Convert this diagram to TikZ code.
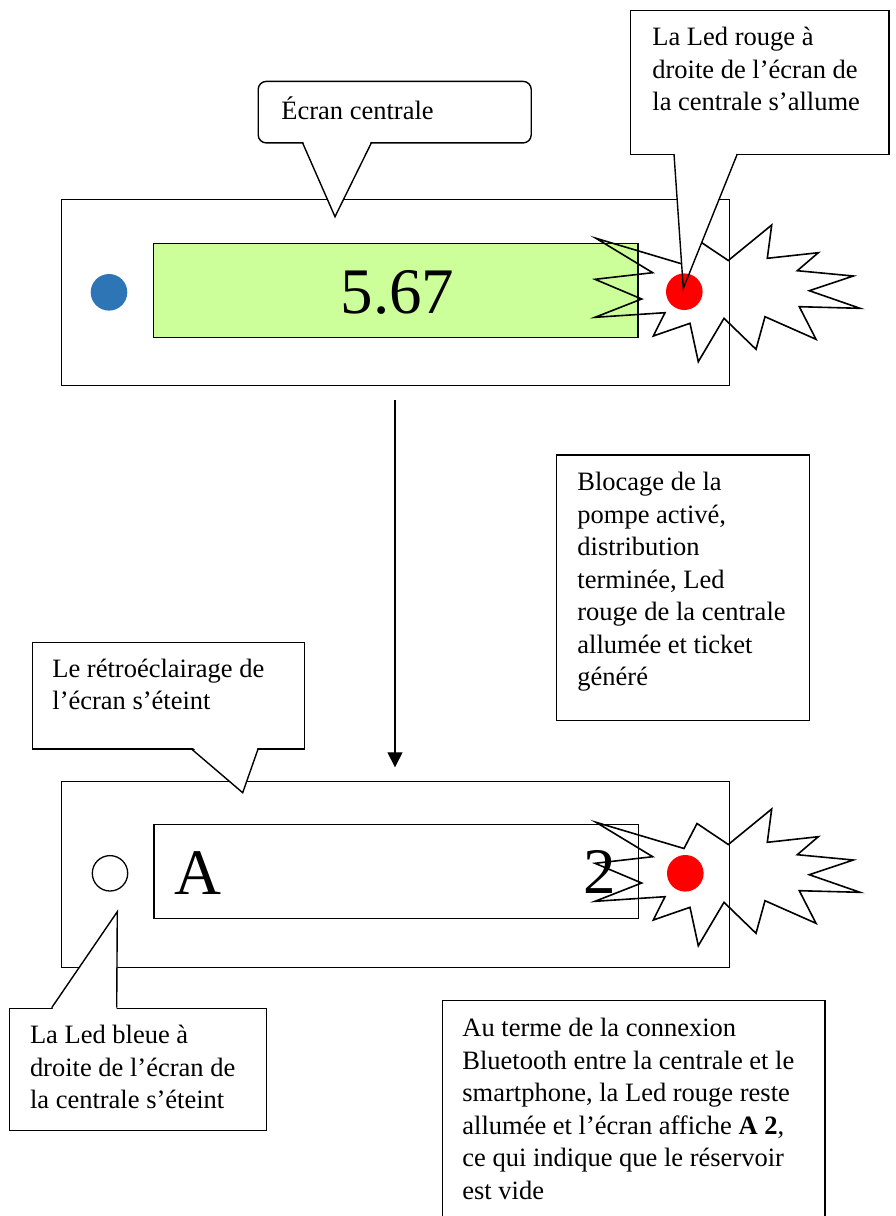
\documentclass[tikz,border=0pt]{standalone}
\usepackage{fontspec}
\setmainfont{Liberation Serif}
\usetikzlibrary{arrows.meta}
\definecolor{ledblue}{RGB}{46,117,182}
\definecolor{scrgreen}{RGB}{204,255,153}
\definecolor{ledred}{RGB}{255,0,0}
\begin{document}
\begin{tikzpicture}[x=1pt,y=-1pt, line width=1.4pt, line join=miter,
  box/.style={draw, line width=1.4pt, inner sep=0pt, anchor=north west, rectangle},
  txt/.style={inner sep=0pt, anchor=north west, align=left, font=\fontsize{26.5}{32.5}\selectfont},
  big/.style={inner sep=0pt, anchor=base west, font=\fontsize{65}{70}\selectfont},
  burst/.style={draw, line width=1.6pt, line join=miter},
  ledfill/.style={circle, inner sep=0pt, minimum size=36.6pt},
  ptr/.style={draw, line width=1.4pt}]
\path[use as bounding box] (0,0) rectangle (896,1216);

% ---------- top device ----------
\node[box, minimum width=668pt, minimum height=186.5pt] (dev1) at (61,198.5) {};
\node[box, fill=scrgreen, minimum width=484.5pt, minimum height=94pt] (scr1) at (152.7,242.7) {};
\node[big] (val) at (340,313.3) {5.67};
\node[ledfill, fill=ledblue] (blue1) at (109,292.3) {};

% ---------- bottom device ----------
\node[box, minimum width=668pt, minimum height=186.3pt] (dev2) at (61,780.7) {};
\node[box, minimum width=484.5pt, minimum height=93.7pt] (scr2) at (153.3,824) {};
\node[big] (valA) at (174,894.3) {A};
\node[big] (val2) at (583,893.3) {2};
\node[circle, draw, line width=1.3pt, inner sep=0pt, minimum size=35.4pt] (blue2) at (110,873.3) {};

% starbursts
\foreach \dy in {0,584}{
\draw[burst, shift={(0,\dy)}] (596,238.3) -- (652.7,272.7) -- (595,279.3) -- (641.7,299) -- (595,317.3) -- (665,312.7) -- (653.3,336) -- (690,323.3) -- (698.3,361.7) -- (724,318.3) -- (756,349.3) -- (765,316.7) -- (816,339.3) -- (799.3,306.7) -- (860,308.3) -- (809.3,290.7) -- (853.3,276) -- (797.3,270.7) -- (818.3,252.7) -- (767.3,258.3) -- (771.7,225) -- (728.3,260.5) -- (697,239.5) -- (684,264.5) -- cycle;
}
\node[ledfill, fill=ledred] (red2) at (685.3,873.3) {};

% callout: Écran centrale
\node[box, rounded corners=8pt, fill=white, minimum width=273pt, minimum height=61.5pt] (c1box) at (257.5,80.7) {};
\coordinate (c1a) at (302.3,142.2);
\coordinate (c1b) at (371.7,142.2);
\coordinate (c1tip) at (335,216.7);
\fill[white] ([yshift=2.5pt]c1a) -- (c1tip) -- ([yshift=2.5pt]c1b) -- cycle;
\draw[ptr] (c1a) -- (c1tip) -- (c1b);
\node[txt] (c1txt) at (280.7,94) {\rule{0pt}{25pt}Écran centrale};

% callout: Led rouge s'allume
\node[box, fill=white, minimum width=258.3pt, minimum height=144pt] (c2box) at (630,10) {};
\coordinate (c2a) at (674,154);
\coordinate (c2b) at (737.3,154);
\coordinate (c2tip) at (683.3,288.3);
\fill[white] ([yshift=2.5pt]c2a) -- (c2tip) -- ([yshift=2.5pt]c2b) -- cycle;
\node[ledfill, fill=ledred] (red1) at (684.3,291.7) {};
\draw[ptr] (c2a) -- (c2tip) -- (c2b);
\node[txt] (c2txt) at (651.7,20) {\rule{0pt}{25pt}La Led rouge à\\droite de l’écran de\\la centrale s’allume};

% ---------- arrow ----------
\coordinate (aS) at (395,400);
\coordinate (aE) at (395,767.3);
\draw[line width=1.3pt, -{Triangle[length=15pt,width=15pt]}] (aS) -- (aE);

% ---------- Blocage box ----------
\node[box, minimum width=252.7pt, minimum height=265.7pt] (bloc) at (556,454.3) {};
\node[txt] (bloctxt) at (576.7,465) {\rule{0pt}{25pt}Blocage de la\\pompe activé,\\distribution\\terminée, Led\\rouge de la centrale\\allumée et ticket\\généré};

% callout: rétroéclairage
\node[box, fill=white, minimum width=272.3pt, minimum height=106.6pt] (c3box) at (31.7,641.7) {};
\coordinate (c3a) at (190.7,748.3);
\coordinate (c3b) at (258.3,748.3);
\coordinate (c3tip) at (242.7,792.7);
\fill[white] ([yshift=2.5pt]c3a) -- (c3tip) -- ([yshift=2.5pt]c3b) -- cycle;
\draw[ptr] (c3a) -- (c3tip) -- (c3b);
\node[txt] (c3txt) at (51.7,651.7) {\rule{0pt}{25pt}Le rétroéclairage de\\l’écran s’éteint};

% callout: Led bleue
\node[box, fill=white, minimum width=256.7pt, minimum height=122.3pt] (c4box) at (9,1007.7) {};
\coordinate (c4a) at (51.7,1007.7);
\coordinate (c4b) at (116.7,1007.7);
\coordinate (c4tip) at (117.3,911.7);
\fill[white] ([yshift=-2.5pt]c4a) -- (c4tip) -- ([yshift=-2.5pt]c4b) -- cycle;
\draw[ptr] (c4a) -- (c4tip) -- (c4b);
\node[txt] (c4txt) at (29.3,1018) {\rule{0pt}{25pt}La Led bleue à\\droite de l’écran de\\la centrale s’éteint};

% ---------- Au terme box ----------
\node[box, minimum width=382.6pt, minimum height=260pt] (fin) at (441.7,1000) {};
\node[txt] (fintxt) at (461.7,1011) {\rule{0pt}{25pt}Au terme de la connexion\\Bluetooth entre la centrale et le\\smartphone, la Led rouge reste\\allumée et l’écran affiche \textbf{A 2},\\ce qui indique que le réservoir\\est vide};
\end{tikzpicture}
\end{document}
